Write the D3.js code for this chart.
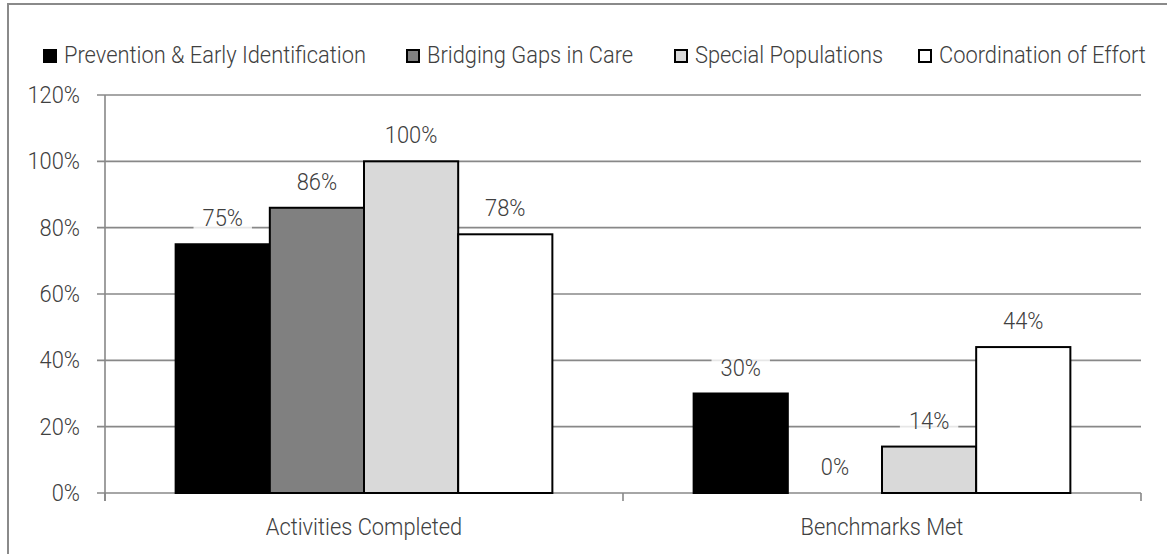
<!DOCTYPE html>
<meta charset="utf-8">
<script src="https://d3js.org/d3.v7.min.js"></script>
<style>
  body { margin: 0; background: #fff; }
  text { font-family: Roboto, "Noto Sans", sans-serif; font-weight: 300; font-size: 23px; fill: #404040; }
</style>
<div id="vis"></div>
<script>

// data
var categories = ["Activities Completed", "Benchmarks Met"];
var seriesNames = ["Prevention & Early Identification", "Bridging Gaps in Care", "Special Populations", "Coordination of Effort"];
var seriesColors = ["#000000", "#808080", "#d9d9d9", "#ffffff"];
var prevention = [75, 30];
var bridging = [86, 0];
var special = [100, 14];
var coordination = [78, 44];
var yTicks = [0, 20, 40, 60, 80, 100, 120];

var values = [prevention, bridging, special, coordination];

var W = 1167, H = 554;
var margin = {top: 95, right: 26, bottom: 61, left: 105},
    width = W - margin.left - margin.right,
    height = H - margin.top - margin.bottom;

var root = d3.select("#vis").append("svg")
    .attr("width", W)
    .attr("height", H);

// squeeze the glyphs a little so Roboto Light looks like the narrow font of the original
var squeeze = 0.95;
function narrow(sel) {
  sel.each(function() {
    var w = this.getComputedTextLength();
    d3.select(this).attr("textLength", w * squeeze).attr("lengthAdjust", "spacingAndGlyphs");
  });
}

// chart frame (top + left edges)
root.append("path")
  .attr("d", "M8,554 L8,4 L1167,4")
  .attr("fill", "none")
  .attr("stroke", "#8a8a8a")
  .attr("stroke-width", 2);

var svg = root.append("g")
  .attr("transform", "translate(" + margin.left + "," + margin.top + ")");

var x0 = d3.scaleBand().domain(categories).range([0, width]);
// gap width 150% -> inner bars take 4/5.5 of each band
var inner = x0.bandwidth() * 4 / 5.5;
var x1 = d3.scaleBand().domain(d3.range(4))
  .range([(x0.bandwidth() - inner) / 2, (x0.bandwidth() + inner) / 2]);

var y = d3.scaleLinear().domain([0, 120]).range([height, 0]);

// gridlines
svg.append("g")
  .selectAll("line")
  .data(yTicks)
  .enter().append("line")
    .attr("x1", -8)
    .attr("x2", width)
    .attr("y1", function(d) { return y(d); })
    .attr("y2", function(d) { return y(d); })
    .attr("stroke", "#888")
    .attr("stroke-width", 1.6);

// y tick labels
svg.append("g")
  .selectAll("text")
  .data(yTicks)
  .enter().append("text")
    .attr("x", -25)
    .attr("y", function(d) { return y(d) + 8; })
    .attr("text-anchor", "end")
    .text(function(d) { return d + "%"; })
    .call(narrow);

// y axis line
svg.append("line")
  .attr("x1", 0).attr("x2", 0)
  .attr("y1", 0).attr("y2", height + 8)
  .attr("stroke", "#888").attr("stroke-width", 1.6);

// x axis category ticks
svg.append("g")
  .selectAll("line")
  .data([0, 1, 2])
  .enter().append("line")
    .attr("x1", function(d) { return d * x0.bandwidth(); })
    .attr("x2", function(d) { return d * x0.bandwidth(); })
    .attr("y1", height)
    .attr("y2", height + 8)
    .attr("stroke", "#888").attr("stroke-width", 1.6);

// x labels
svg.append("g")
  .selectAll("text")
  .data(categories)
  .enter().append("text")
    .attr("x", function(d) { return x0(d) + x0.bandwidth() / 2; })
    .attr("y", height + 42)
    .attr("text-anchor", "middle")
    .text(function(d) { return d; })
    .call(narrow);

// bars
var rows = [];
categories.forEach(function(c, ci) {
  values.forEach(function(s, si) {
    rows.push({cat: c, s: si, v: s[ci]});
  });
});

svg.append("g")
  .selectAll("rect")
  .data(rows)
  .enter().append("rect")
    .attr("x", function(d) { return x0(d.cat) + x1(d.s); })
    .attr("y", function(d) { return y(d.v); })
    .attr("width", x1.bandwidth())
    .attr("height", function(d) { return height - y(d.v); })
    .attr("fill", function(d) { return seriesColors[d.s]; })
    .attr("stroke", function(d) { return d.v > 0 ? "#000" : "none"; })
    .attr("stroke-width", 2);

// data labels
var lab = svg.append("g")
  .selectAll("g")
  .data(rows)
  .enter().append("g")
    .attr("transform", function(d) {
      return "translate(" + (x0(d.cat) + x1(d.s) + x1.bandwidth() / 2) + "," + (y(d.v) - 18) + ")";
    });

lab.append("text")
  .attr("text-anchor", "middle")
  .text(function(d) { return d.v + "%"; })
  .call(narrow)
  .each(function() {
    var bb = this.getBBox();
    d3.select(this.parentNode).insert("rect", "text")
      .attr("x", bb.x - 9).attr("y", bb.y + 2)
      .attr("width", bb.width + 18).attr("height", bb.height - 4)
      .attr("fill", "#fff").attr("opacity", 0.8);
  });

// legend
var legendX = [43, 406, 674, 918];
var legend = root.append("g")
  .selectAll("g")
  .data(seriesNames)
  .enter().append("g")
    .attr("transform", function(d, i) { return "translate(" + legendX[i] + ",49)"; });

legend.append("rect")
  .attr("x", 1).attr("y", 1)
  .attr("width", 12).attr("height", 12)
  .attr("fill", function(d, i) { return seriesColors[i]; })
  .attr("stroke", "#000")
  .attr("stroke-width", 2);

legend.append("text")
  .attr("x", 21)
  .attr("y", 14)
  .text(function(d) { return d; })
  .call(narrow);

</script>
